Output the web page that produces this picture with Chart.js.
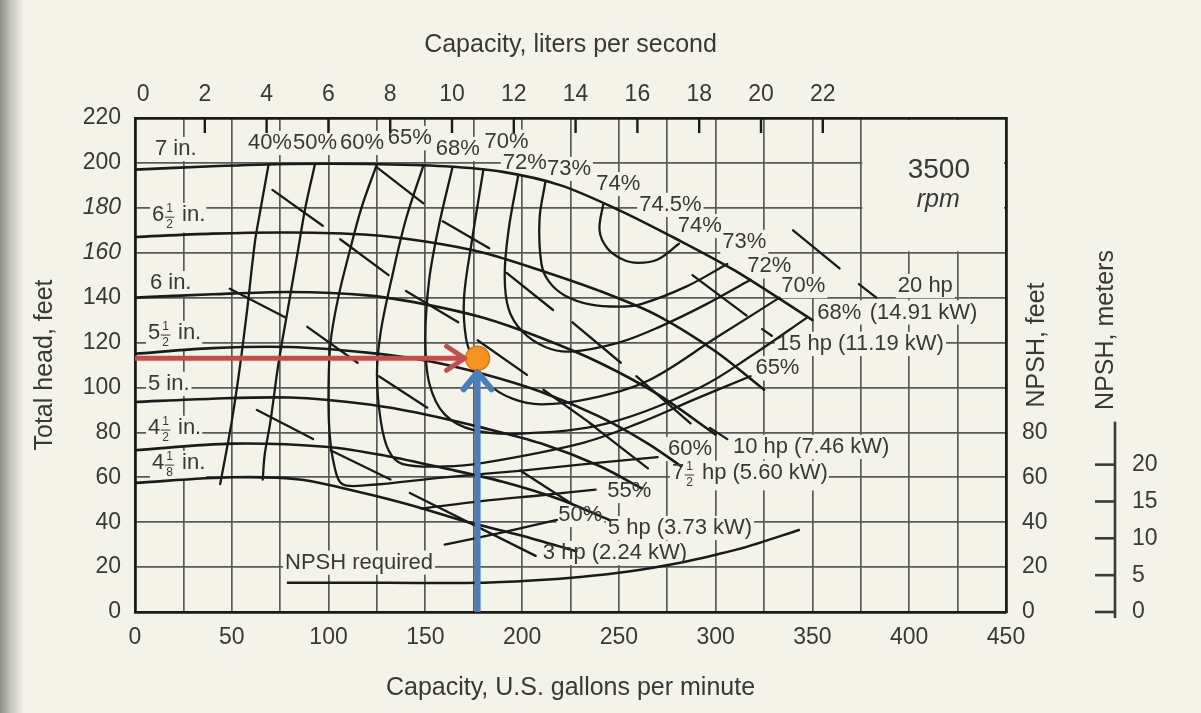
<!DOCTYPE html>
<html>
<head>
<meta charset="utf-8">
<script src="https://cdn.jsdelivr.net/npm/chart.js@4.4.1/dist/chart.umd.min.js"></script>
<style>
  html, body { margin: 0; padding: 0; background: #f3f3ea; }
  #wrap { width: 1201px; height: 713px; }
</style>
</head>
<body>
<div id="wrap"><canvas id="chart" width="1201" height="713"></canvas></div>
<script>
const FONT = "'Liberation Sans', Arial, sans-serif";
const INK = '#1a1a1a';
const TEXT = '#383838';
const GRIDC = '#5a5a5a';
const PAPER = '#f3f3ea';

// axis tick labels
const gpmTicks = [0, 50, 100, 150, 200, 250, 300, 350, 400, 450];
const lpsTicks = [0, 2, 4, 6, 8, 10, 12, 14, 16, 18, 20, 22];
const npshFeetTicks = [0, 20, 40, 60, 80];
const npshMeterTicks = [0, 5, 10, 15, 20];
const FT_PER_M = 3.281;

// head-capacity curves, [gpm, feet]
const head7in = [[0,197],[40,198.5],[80,199.5],[120,199.5],[160,198.5],[190,196],[220,190],[250,179],[280,166],[310,152],[350,130]];
const head6_5in = [[0,167],[40,168.5],[80,169],[120,168],[150,165],[180,160],[210,152],[240,143],[270,132],[300,116],[325,99]];
const head6in = [[0,140],[40,141.5],[80,142.5],[120,141],[150,137],[180,131],[210,122],[240,111],[270,97],[300,79]];
const head5_5in = [[0,115],[40,117.5],[80,118],[120,115.5],[150,112],[180,106],[210,98],[240,87],[265,75],[282,65]];
const head5in = [[0,93.5],[40,95],[80,95.5],[120,92.5],[150,88],[180,82],[210,75],[240,65],[262,55]];
const head4_5in = [[0,72],[50,75],[100,73.5],[130,69.5],[160,64],[190,58],[220,50],[245,41]];
const head4_125in = [[0,57.5],[50,60],[85,59],[118,53],[145,47],[170,40.5],[200,34],[228,27]];

// efficiency contours, [gpm, feet]
const eff40 = [[69,199.2],[65,180],[62,165],[58,135],[54,108],[50,85],[46,66],[44,57]];
const eff50 = [[93,199.5],[88,180],[84,160],[79,135],[74,110],[70,85],[67,70],[66,59]];
const eff60 = [[125,199.5],[117,180],[111,161],[105,140],[101,120],[100,100],[100.5,80],[103,65],[107,57],[120,56.5],[160,60],[200,63],[240,66.5],[270,69]];
const eff65 = [[149,198.8],[140,175],[133,150],[127,125],[125,106],[127,85],[131,72],[138,66],[160,64.8],[180,66.4],[230,75],[260,84],[290,95],[318,105]];
const eff68 = [[164,198],[157,172],[152,148],[150,122],[152,102],[160,88],[175,81],[200,79.5],[244,84],[292,100],[320,115],[347,131]];
const eff70 = [[180,197],[174,165],[170,140],[171,122],[175,112],[182,102],[195,95],[210,92.5],[235,95],[265,103],[300,122],[333,140]];
const eff72 = [[198,194.5],[193,170],[191,150],[193,135],[200,125],[212,118],[225,116],[250,120],[271,127],[295,137],[318,148]];
const eff73 = [[212,191.5],[209,175],[210,155],[214,147],[222,141],[235,137],[250,136],[261,137],[285,145],[306,155]];
const eff74 = [[242,182],[240,170],[244,162],[252,157],[260,155.5],[270,157],[281,164]];
const eff55 = [[148,46],[180,49.5],[210,52],[238,54.5]];
const eff50r = [[160,30],[190,35.5],[218,41]];

// brake horsepower lines, drawn in pieces, [gpm, feet]
const hp3 = [[[63,90],[92,77]], [[142,53],[207,25]]];
const hp5 = [[[49,144],[78,131]], [[89,127],[115,111]], [[101,72],[132,59]], [[199,63],[226,48]]];
const hp7_5 = [[[71,188],[97,172]], [[106,166],[131,150]], [[126,105],[151,91]], [[177,121],[202.5,105.6]], [[235,84],[265,64]]];
const hp10 = [[[125,198],[149,182]], [[140,143],[167,129]], [[211,99],[237,83]], [[259,105],[287,84]], [[297,82],[306,77]]];
const hp15 = [[[159,174],[183,162]], [[192,151],[216,134.5]], [[226,129],[251,111]], [[324,126],[329,123]]];
const hp20 = [[[288,150],[316,132]], [[340,170],[364,153]], [[374,146],[383,140]]];

// NPSH required, [gpm, feet]
const npshRequired = [[79,13],[130,13],[178,13],[205,14],[230,15.6],[255,18],[281,21.8],[300,25.5],[316,29],[343,36.5]];

// operating point
const opGpm = 177;
const opFt = 113;

// labels: [text, gpm, feet]
const headLabels = [['7 in.',10.3,206.2],['6 1/2 in.',8.8,176.8],['6 in.',7.7,146.5],['5 1/2 in.',6.7,124.3],['5 in.',6.7,101.6],['4 1/2 in.',6.7,82],['4 1/8 in.',8.8,66.4]];
const effLabels = [['40%',69.7,208.9],['50%',93,208.9],['60%',117.3,208.9],['65%',142,211],['68%',166.8,206.2],['70%',192,209.4],['72%',201.4,200],
  ['73%',224.2,197.3],['74%',249.7,190.6],['74.5%',276.6,181.3],['74%',291.8,171.9],['73%',314.8,164.8],['72%',327.7,153.9],['70%',345.3,145.2],
  ['68%',363.9,133.4],['65%',331.9,108.5],['60%',286.7,72.6],['55%',255.4,53.9],['50%',230.1,43.2]];
const powerLabels = [['20 hp',394.1,145.2],['(14.91 kW)',379.6,133.4],['15 hp (11.19 kW)',331.6,119.4],['10 hp (7.46 kW)',308.9,73.5],
  ['7 1/2 hp (5.60 kW)',277.4,62],['5 hp (3.73 kW)',244.3,37.4],['3 hp (2.24 kW)',210.7,26.3],['NPSH required',77.5,22]];

function curve(pts, w, t) {
  return { data: pts.map(p => ({x: p[0], y: p[1]})), showLine: true, pointRadius: 0, borderColor: INK,
    borderWidth: w, tension: t, fill: false, order: 5, borderCapStyle: 'round', borderJoinStyle: 'round' };
}

const datasets = [];
datasets.push({ data: [{x: opGpm, y: opFt}], pointRadius: 12, backgroundColor: '#f6921e', borderColor: '#d8780e', borderWidth: 1.5, order: 0 });
datasets.push({ data: [{x: 0, y: opFt}, {x: opGpm, y: opFt}], showLine: true, pointRadius: 0, borderColor: '#c0504d', borderWidth: 5, order: 1 });
datasets.push({ data: [{x: opGpm, y: 0}, {x: opGpm, y: opFt}], showLine: true, pointRadius: 0, borderColor: '#4a7ebb', borderWidth: 6, order: 1 });

[head7in, head6_5in, head6in, head5_5in, head5in, head4_5in, head4_125in].forEach(h => datasets.push(curve(h, 2.6, 0.3)));
[eff40, eff50, eff60, eff65, eff68, eff70, eff72, eff73, eff74, eff55, eff50r].forEach(e => datasets.push(curve(e, 2.3, 0.35)));
[hp3, hp5, hp7_5, hp10, hp15, hp20].forEach(line => line.forEach(seg => datasets.push(curve(seg, 2.3, 0))));
datasets.push(curve(npshRequired, 2.5, 0.3));

function fracParts(text) {
  return text.match(/^(\d+) (\d)\/(\d)(.*)$/);
}

function labelWidth(c, text, size) {
  c.font = size + 'px ' + FONT;
  const m = fracParts(text);
  if (!m) return c.measureText(text).width;
  const w1 = c.measureText(m[1]).width;
  const w3 = c.measureText(m[4]).width;
  c.font = Math.round(size * 0.55) + 'px ' + FONT;
  return w1 + c.measureText('2').width + 4 + w3;
}

function drawLabel(c, text, x, y, size, align) {
  c.textBaseline = 'middle';
  c.fillStyle = TEXT;
  const m = fracParts(text);
  c.font = size + 'px ' + FONT;
  if (!m) { c.textAlign = align; c.fillText(text, x, y); return; }
  c.textAlign = 'left';
  c.fillText(m[1], x, y);
  const w1 = c.measureText(m[1]).width;
  const small = Math.round(size * 0.55);
  c.font = small + 'px ' + FONT;
  const fw = c.measureText('2').width + 2;
  c.textAlign = 'center';
  c.fillText(m[2], x + w1 + 1 + fw / 2, y - size * 0.27);
  c.fillText(m[3], x + w1 + 1 + fw / 2, y + size * 0.45);
  c.strokeStyle = TEXT; c.lineWidth = 1;
  c.beginPath(); c.moveTo(x + w1 + 1, y + size * 0.1); c.lineTo(x + w1 + 1 + fw, y + size * 0.1); c.stroke();
  c.font = size + 'px ' + FONT;
  c.textAlign = 'left';
  c.fillText(m[4], x + w1 + fw + 3, y);
}

const allLabels = () => [
  ...headLabels.map(l => [l[0], l[1], l[2], 'left']),
  ...effLabels.map(l => [l[0], l[1], l[2], 'center']),
  ...powerLabels.map(l => [l[0], l[1], l[2], 'left'])
];

const paperPlugin = {
  id: 'paper',
  beforeDraw(chart) {
    const c = chart.ctx;
    c.save();
    c.fillStyle = PAPER;
    c.fillRect(0, 0, chart.width, chart.height);
    const g = c.createLinearGradient(0, 0, 24, 0);
    g.addColorStop(0, '#8e8e8a');
    g.addColorStop(0.45, '#c4c4bd');
    g.addColorStop(1, PAPER);
    c.fillStyle = g;
    c.fillRect(0, 0, 24, chart.height);
    c.restore();
  },
  beforeDatasetsDraw(chart) {
    const c = chart.ctx;
    const xs = chart.scales.x, ys = chart.scales.y, x2 = chart.scales.x2;
    c.save();
    // blank the box behind "3500 rpm"
    c.fillStyle = PAPER;
    const bx = xs.getPixelForValue(375) + 1.5, by = ys.getPixelForValue(220) + 2;
    c.fillRect(bx, by, xs.getPixelForValue(450) - 2 - bx, ys.getPixelForValue(160) - 1.5 - by);
    // label masks
    const size = 22;
    allLabels().forEach(l => {
      const w = labelWidth(c, l[0], size);
      const cx = xs.getPixelForValue(l[1]), cy = ys.getPixelForValue(l[2]);
      const left = l[3] === 'center' ? cx - w / 2 : cx;
      const frac = fracParts(l[0]);
      c.fillStyle = PAPER;
      c.fillRect(left - 2, cy - size * 0.55, w + 4, size * (frac ? 1.35 : 1.1));
    });
    // inner ticks of the liters-per-second scale
    c.strokeStyle = INK; c.lineWidth = 2.4;
    lpsTicks.slice(1).forEach(v => {
      const px = x2.getPixelForValue(v);
      c.beginPath(); c.moveTo(px, chart.chartArea.top); c.lineTo(px, chart.chartArea.top + 15); c.stroke();
    });
    c.restore();
  },
  afterDatasetsDraw(chart) {
    const c = chart.ctx;
    const xs = chart.scales.x, ys = chart.scales.y;
    c.save();
    // arrow heads
    const ox = xs.getPixelForValue(opGpm), oy = ys.getPixelForValue(opFt);
    c.lineCap = 'round'; c.lineJoin = 'round';
    c.strokeStyle = '#c0504d'; c.lineWidth = 5;
    c.beginPath(); c.moveTo(ox - 31, oy - 12); c.lineTo(ox - 13, oy); c.lineTo(ox - 31, oy + 12); c.stroke();
    c.strokeStyle = '#4a7ebb'; c.lineWidth = 6;
    c.beginPath(); c.moveTo(ox - 14, oy + 31); c.lineTo(ox, oy + 14); c.lineTo(ox + 14, oy + 31); c.stroke();
    // labels
    allLabels().forEach(l => drawLabel(c, l[0], xs.getPixelForValue(l[1]), ys.getPixelForValue(l[2]), 22, l[3]));
    c.fillStyle = TEXT; c.textAlign = 'center'; c.textBaseline = 'middle';
    c.font = '28px ' + FONT;
    c.fillText('3500', xs.getPixelForValue(415.3), ys.getPixelForValue(196.9));
    c.font = 'italic 25px ' + FONT;
    c.fillText('rpm', xs.getPixelForValue(415), ys.getPixelForValue(183.5));
    c.restore();
  },
  afterDraw(chart) {
    const c = chart.ctx;
    const ys = chart.scales.y;
    c.save();
    c.fillStyle = TEXT;
    c.font = '25px ' + FONT;
    c.textAlign = 'center'; c.textBaseline = 'middle';
    c.save(); c.translate(1037, 345); c.rotate(-Math.PI / 2); c.fillText('NPSH, feet', 0, 0); c.restore();
    c.save(); c.translate(1106, 330); c.rotate(-Math.PI / 2); c.fillText('NPSH, meters', 0, 0); c.restore();
    // meters scale
    const ax = 1115;
    const top = ys.getPixelForValue(20 * FT_PER_M) - 43;
    c.strokeStyle = '#3a3a3a'; c.lineWidth = 2.6;
    c.beginPath(); c.moveTo(ax, top); c.lineTo(ax, ys.getPixelForValue(0) + 6); c.stroke();
    c.font = '23px ' + FONT; c.textAlign = 'left';
    npshMeterTicks.forEach(m => {
      const py = ys.getPixelForValue(m * FT_PER_M);
      c.beginPath(); c.moveTo(ax - 20, py); c.lineTo(ax, py); c.stroke();
      c.fillText(String(m), ax + 17, py);
    });
    c.restore();
  }
};

const tickFont = { family: FONT, size: 23 };
const titleFont = { family: FONT, size: 25 };

new Chart(document.getElementById('chart'), {
  type: 'scatter',
  data: { datasets: datasets },
  plugins: [paperPlugin],
  options: {
    responsive: false,
    animation: false,
    events: [],
    layout: { padding: 0 },
    plugins: { legend: { display: false }, tooltip: { enabled: false } },
    scales: {
      x: {
        type: 'linear', position: 'bottom', min: 0, max: 450,
        ticks: { stepSize: 25, autoSkip: false, maxRotation: 0, padding: 12, color: TEXT, font: tickFont,
          callback: v => gpmTicks.includes(v) ? String(v) : '' },
        grid: { color: GRIDC, lineWidth: 1.7, drawTicks: false },
        border: { display: true, color: INK, width: 2.8 },
        title: { display: true, text: 'Capacity, U.S. gallons per minute', color: TEXT, font: titleFont, padding: { top: 0, bottom: 10 } },
        afterFit: s => { s.height = 101; }
      },
      x2: {
        type: 'linear', position: 'top', min: -0.26, max: 27.93,
        afterBuildTicks: s => { s.ticks = lpsTicks.map(v => ({ value: v })); },
        ticks: { autoSkip: false, maxRotation: 0, padding: 10, color: TEXT, font: tickFont,
          callback: v => String(v) },
        grid: { drawOnChartArea: false, drawTicks: false },
        border: { display: true, color: INK, width: 2.8 },
        title: { display: true, text: 'Capacity, liters per second', color: TEXT, font: titleFont, padding: { top: 30, bottom: 0 } },
        afterFit: s => { s.height = 118; }
      },
      y: {
        type: 'linear', position: 'left', min: 0, max: 220,
        ticks: { stepSize: 20, padding: 14, color: TEXT,
          font: ctx => ({ family: FONT, size: 23, style: (ctx.tick && (ctx.tick.value === 180 || ctx.tick.value === 160)) ? 'italic' : 'normal' }) },
        grid: { color: GRIDC, lineWidth: 1.7, drawTicks: false },
        border: { display: true, color: INK, width: 2.8 },
        title: { display: true, text: 'Total head, feet', color: TEXT, font: titleFont, padding: { top: 30, bottom: 0 } },
        afterFit: s => { s.width = 135; }
      },
      y2: {
        type: 'linear', position: 'right', min: 0, max: 220,
        ticks: { stepSize: 20, padding: 16, color: TEXT, font: tickFont,
          callback: v => npshFeetTicks.includes(v) ? String(v) : '' },
        grid: { drawOnChartArea: false, drawTicks: false },
        border: { display: true, color: INK, width: 2.8 },
        afterFit: s => { s.width = 195; }
      }
    }
  }
});
</script>
</body>
</html>
